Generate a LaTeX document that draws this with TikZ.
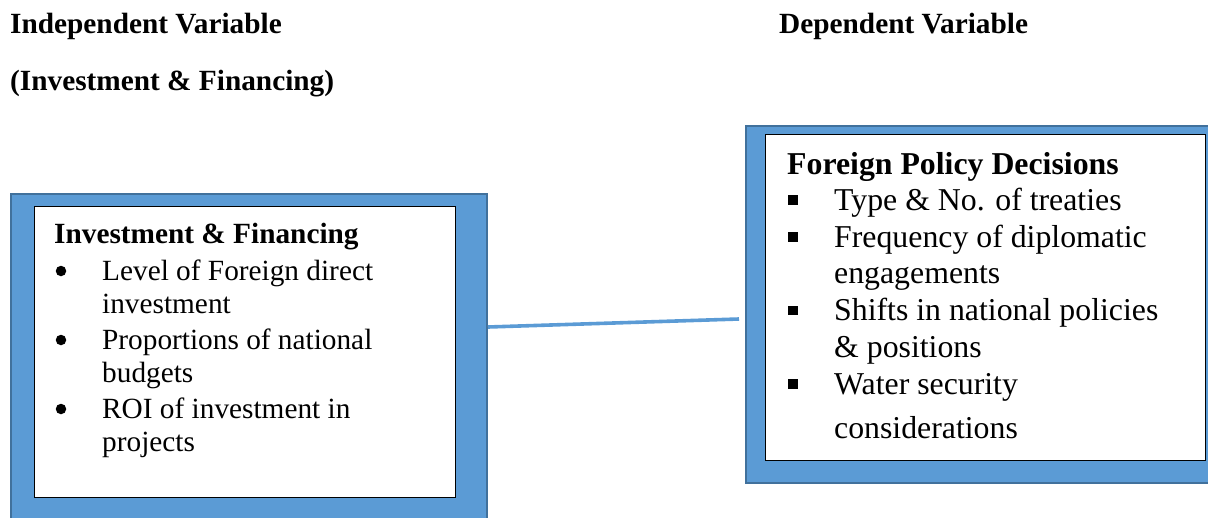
\documentclass[tikz,border=0pt]{standalone}
\usepackage{fontspec}
\setmainfont{Liberation Serif}
\definecolor{boxblue}{HTML}{5B9BD5}
\definecolor{boxedge}{HTML}{41719C}
\tikzset{
  outerbox/.style={draw=boxedge, line width=2pt, fill=boxblue, rectangle, inner sep=0pt, anchor=north west},
  innerbox/.style={draw=black, line width=1.2pt, fill=white, rectangle, inner sep=0pt, anchor=north west},
  hdr/.style={anchor=base west, inner sep=0pt, font=\fontsize{29.3}{34}\selectfont\bfseries},
  ltxt/.style={anchor=base west, inner sep=0pt, font=\fontsize{29.3}{34}\selectfont},
  rtitle/.style={anchor=base west, inner sep=0pt, font=\fontsize{31.8}{37}\selectfont\bfseries},
  rtxt/.style={anchor=base west, inner sep=0pt, font=\fontsize{31.8}{37}\selectfont},
  rbul/.style={rectangle, fill=black, inner sep=0pt, minimum size=9.5pt},
  lbul/.style={circle, fill=black, inner sep=0pt, minimum size=10.5pt},
  conn/.style={draw=boxblue, line width=3.6pt}
}
\begin{document}
\begin{tikzpicture}[x=1pt,y=-1pt]
\useasboundingbox (0,0) rectangle (1208,517);
\clip (0,0) rectangle (1208,517);
% headers
\node[hdr] (indep) at (10,33) {Independent Variable};
\node[hdr] (invhdr) at (10,90) {(Investment \& Financing)};
\node[hdr] (dep) at (779,33) {Dependent Variable};
% left box
\node[outerbox, minimum width=476pt, minimum height=360pt] (Lout) at (10,193) {};
\node[innerbox, minimum width=421pt, minimum height=291pt] (Lin) at (34,206) {};
\node[hdr] (Ltitle) at (54,243) {Investment \& Financing};
\node[ltxt] (L1) at (102,280) {Level of Foreign direct};
\node[ltxt] (L1b) at (102,313.5) {investment};
\node[ltxt] (L2) at (102,349) {Proportions of national};
\node[ltxt] (L2b) at (102,382) {budgets};
\node[ltxt] (L3) at (102,418) {ROI of investment in};
\node[ltxt] (L3b) at (102,451.5) {projects};
\node[lbul] (Lb1) at (61,271) {};
\node[lbul] (Lb2) at (61,340) {};
\node[lbul] (Lb3) at (61,409) {};
% right box
\node[outerbox, minimum width=500pt, minimum height=357pt] (Rout) at (745,125) {};
\node[innerbox, minimum width=440pt, minimum height=326pt] (Rin) at (765,134) {};
\node[rtitle] (Rtitle) at (787,174) {Foreign Policy Decisions};
\node[rtxt] (R1) at (834,210) {Type \& No. of treaties};
\node[rtxt] (R2) at (834,247) {Frequency of diplomatic};
\node[rtxt] (R2b) at (834,283.5) {engagements};
\node[rtxt] (R3) at (834,320.5) {Shifts in national policies};
\node[rtxt] (R3b) at (834,357.5) {\& positions};
\node[rtxt] (R4) at (834,394) {Water security};
\node[rtxt] (R4b) at (834,438) {considerations};
\node[rbul] (Rb1) at (793,200) {};
\node[rbul] (Rb2) at (793,237) {};
\node[rbul] (Rb3) at (793,310.5) {};
\node[rbul] (Rb4) at (793,384) {};
% connector
\coordinate (cend) at (739,319);
\draw[conn] (Lout.east |- 0,327) -- (cend);
\end{tikzpicture}
\end{document}
